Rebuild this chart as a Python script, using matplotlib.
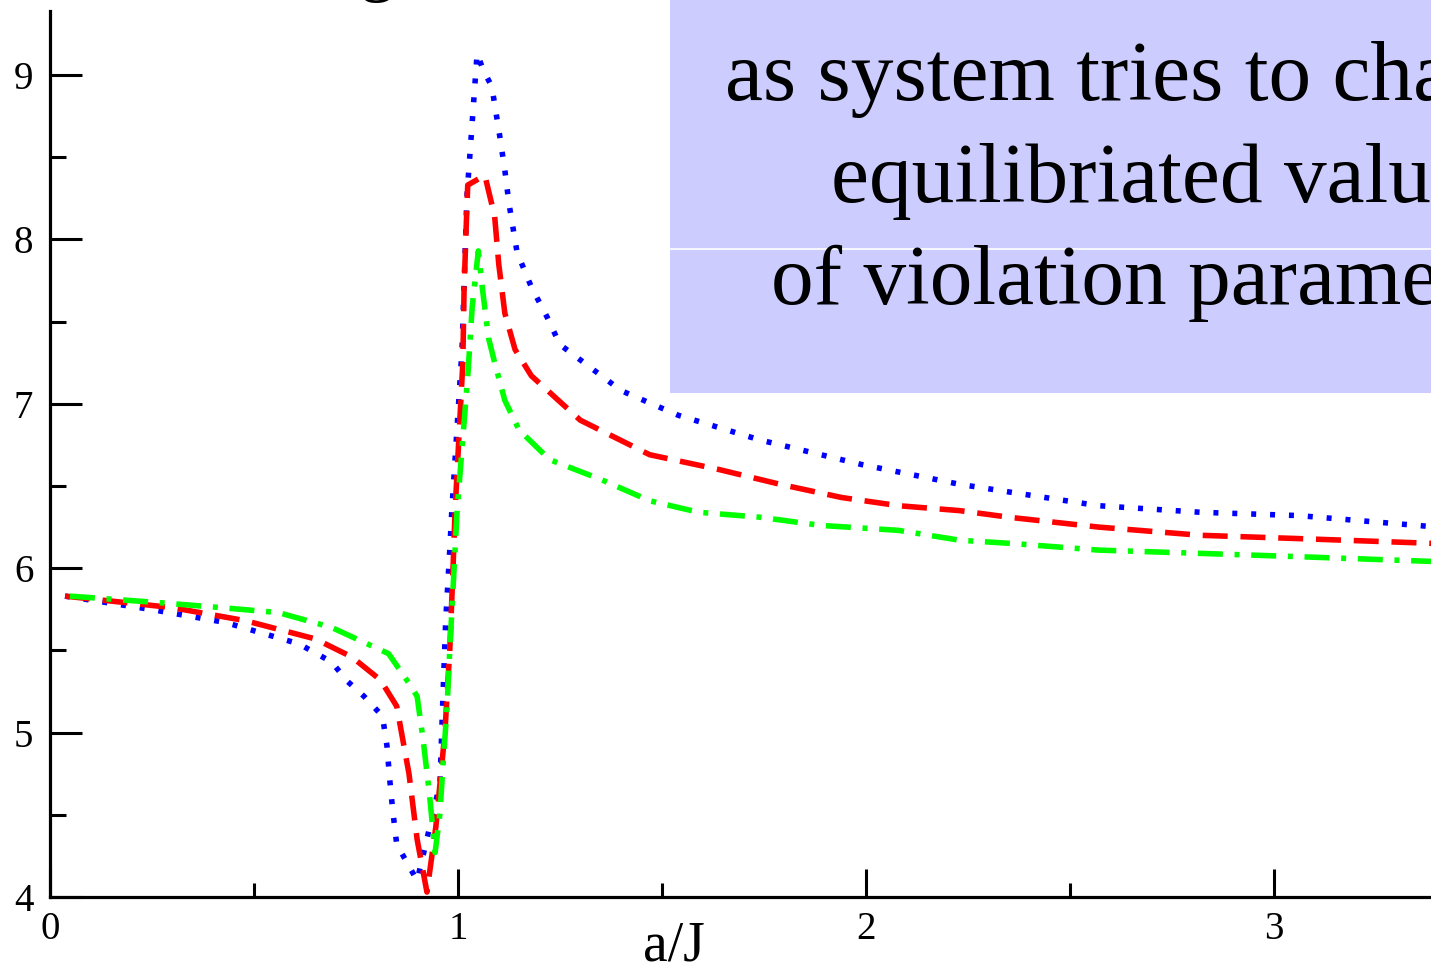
import matplotlib
matplotlib.use("Agg")
import matplotlib.pyplot as plt
from matplotlib.patches import Rectangle
from matplotlib.ticker import MultipleLocator

plt.rcParams["font.family"] = ["Liberation Serif", "DejaVu Serif"]

# violation parameter vs a/J, three runs
blue_x = [0.037, 0.245, 0.43, 0.61, 0.69, 0.73, 0.77, 0.815, 0.826, 0.833, 0.84, 0.85, 0.90,
          0.956, 0.963, 0.97, 0.98, 0.985, 1.01, 1.022, 1.047, 1.062, 1.083, 1.103, 1.115, 1.125,
          1.145, 1.18, 1.218, 1.25, 1.40, 1.54, 1.74, 1.99, 2.23, 2.36, 2.57, 2.82, 3.06, 3.40]
blue_y = [5.83, 5.75, 5.67, 5.54, 5.43, 5.31, 5.22, 5.10, 4.92, 4.71, 4.53, 4.32, 4.10,
          4.69, 5.20, 5.68, 6.11, 6.35, 7.33, 8.26, 9.13, 9.03, 8.93, 8.62, 8.42, 8.22,
          7.92, 7.71, 7.53, 7.36, 7.08, 6.93, 6.78, 6.63, 6.51, 6.46, 6.38, 6.34, 6.32, 6.25]

red_x = [0.037, 0.30, 0.48, 0.65, 0.74, 0.81, 0.85, 0.88, 0.90, 0.924, 0.946, 0.968, 0.98,
         0.988, 0.993, 1.012, 1.015, 1.02, 1.024, 1.066, 1.09, 1.10, 1.115, 1.14, 1.18, 1.30,
         1.47, 1.64, 1.79, 1.94, 2.08, 2.23, 2.35, 2.57, 2.82, 3.06, 3.40]
red_y = [5.83, 5.76, 5.68, 5.57, 5.46, 5.32, 5.16, 4.75, 4.35, 4.03, 4.43, 5.00, 5.50,
         6.00, 6.35, 7.25, 7.69, 8.06, 8.33, 8.39, 8.14, 7.85, 7.55, 7.33, 7.17, 6.90,
         6.69, 6.60, 6.51, 6.43, 6.38, 6.35, 6.31, 6.25, 6.20, 6.18, 6.15]

green_x = [0.049, 0.27, 0.42, 0.56, 0.69, 0.83, 0.88, 0.90, 0.915, 0.93, 0.944, 0.956, 0.963,
           0.973, 0.98, 0.993, 0.998, 1.025, 1.035, 1.05, 1.06, 1.075, 1.09, 1.115, 1.15,
           1.225, 1.35, 1.47, 1.59, 1.74, 1.89, 2.08, 2.23, 2.36, 2.57, 2.82, 3.06, 3.40]
green_y = [5.83, 5.79, 5.76, 5.73, 5.64, 5.48, 5.30, 5.22, 4.95, 4.63, 4.27, 4.51, 4.79,
           5.14, 5.50, 6.11, 6.35, 7.20, 7.59, 7.93, 7.70, 7.40, 7.25, 7.02, 6.84,
           6.66, 6.54, 6.41, 6.34, 6.31, 6.26, 6.23, 6.17, 6.15, 6.11, 6.09, 6.07, 6.04]

note_lines = ["as system tries to change", "equilibriated value", "of violation parameter"]

fig = plt.figure(figsize=(14.31, 9.64), dpi=100)
ax = fig.add_axes([0.0349, 0.0695, 0.9651, 0.9191])

lw = 4.0
ax.plot(blue_x, blue_y, color="#0000ff", linewidth=lw, dashes=(0.9, 2.5))
ax.plot(red_x, red_y, color="#ff0000", linewidth=lw, dashes=(4.5, 2.3))
ax.plot(green_x, green_y, color="#00ff00", linewidth=lw, dashes=(4.5, 2.1, 0.9, 2.1))

ax.set_xlim(0, 3.385)
ax.set_ylim(4, 9.389)
ax.xaxis.set_major_locator(MultipleLocator(1))
ax.xaxis.set_minor_locator(MultipleLocator(0.5))
ax.yaxis.set_major_locator(MultipleLocator(1))
ax.yaxis.set_minor_locator(MultipleLocator(0.5))

for side in ["top", "right"]:
    ax.spines[side].set_visible(False)
for side in ["left", "bottom"]:
    ax.spines[side].set_linewidth(2.3)

ax.tick_params(axis="x", which="major", direction="in", length=20, width=2.2, pad=10, labelsize=28)
ax.tick_params(axis="x", which="minor", direction="in", length=10, width=2.2)
ax.tick_params(axis="y", which="major", direction="in", length=23, width=2.2, pad=12, labelsize=28)
ax.tick_params(axis="y", which="minor", direction="in", length=11.5, width=2.2)

ax.set_xlabel("a/J", fontsize=40, va="top")
ax.xaxis.set_label_coords(0.452, -0.027)

# shaded note box in the upper right
box = Rectangle((670 / 1431, 571 / 964), 1.0, 0.5, transform=fig.transFigure,
                facecolor="#ccccff", edgecolor="none", zorder=3)
fig.patches.append(box)
fig.add_artist(plt.Line2D([670 / 1431, 1.0], [715 / 964, 715 / 964], transform=fig.transFigure,
                          color="white", linewidth=1.2, zorder=4))
for i, line in enumerate(note_lines):
    fig.text(1150 / 1431, (964 - 100 - 102 * i) / 964, line, ha="center", va="baseline",
             fontsize=61.5, zorder=5)

# tail of the title above the frame
fig.text(377 / 1431, (964 + 12) / 964, "g", ha="center", va="baseline", fontsize=50)

fig.savefig("out.png", dpi=100)
